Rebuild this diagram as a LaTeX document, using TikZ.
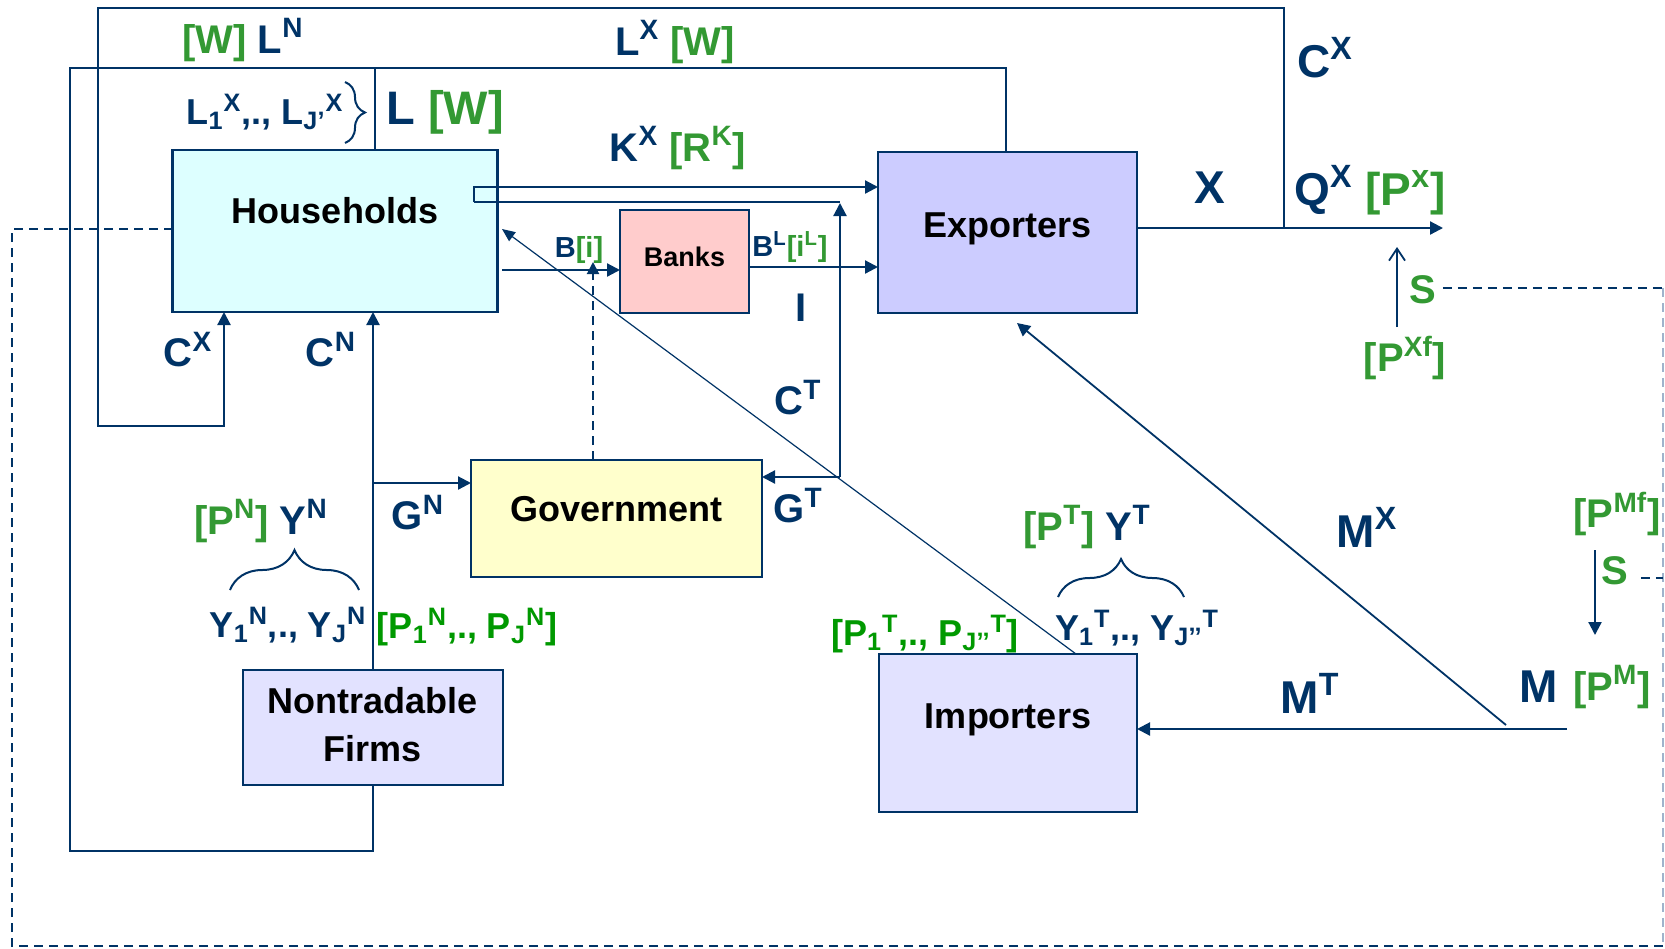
\documentclass[tikz,border=0pt]{standalone}
\usepackage{fontspec}
\setmainfont{Liberation Sans}
\usetikzlibrary{arrows.meta,decorations.pathreplacing}
\definecolor{navy}{HTML}{003366}
\definecolor{navylight}{HTML}{9FB3CC}
\definecolor{grn}{HTML}{339933}
\definecolor{grnb}{HTML}{009900}
\definecolor{hhfill}{HTML}{DDFFFF}
\definecolor{exfill}{HTML}{CCCCFF}
\definecolor{bkfill}{HTML}{FFCCCC}
\definecolor{gvfill}{HTML}{FFFFCC}
\definecolor{ntfill}{HTML}{E2E2FF}
\newcommand\sps[1]{\textsuperscript{#1}}
\newcommand\sbs[1]{\textsubscript{#1}}
\newcommand\gr[1]{\textcolor{grn}{#1}}
\newcommand\grb[1]{\textcolor{grnb}{#1}}
\begin{document}
\begin{tikzpicture}[x=0.5pt,y=-0.5pt,
  box/.style={draw=navy, line width=1.2pt, font=\fontsize{18}{24}\selectfont\bfseries, text=black, inner sep=0pt, outer sep=0pt},
  lab/.style={font=\fontsize{20}{23}\selectfont\bfseries, text=navy, inner sep=0pt},
  labx/.style={font=\fontsize{23}{26}\selectfont\bfseries, text=navy, inner sep=0pt},
  labs/.style={font=\fontsize{18}{21}\selectfont\bfseries, text=navy, inner sep=0pt},
  labg/.style={font=\fontsize{20}{23}\selectfont\bfseries, text=navy, inner sep=0pt},
  labm/.style={font=\fontsize{14.5}{17}\selectfont\bfseries, text=navy, inner sep=0pt},
  flow/.style={draw=navy, line width=1.1pt},
  arr/.style={flow, -{Triangle[length=6.5pt,width=6.5pt]}},
  dashline/.style={draw=navy, line width=1pt, dash pattern=on 4.5pt off 3pt},
  thinline/.style={draw=navy, line width=0.6pt},
  brc/.style={draw=navy, line width=1pt, decorate}
]
\useasboundingbox (0,0) rectangle (1665,948);
\fill[white] (0,0) rectangle (1665,948);

% boxes
\node[box, fill=hhfill, minimum width=162.5pt, minimum height=81pt, text height=12.9pt, text depth=20pt] (hh) at (335,231) {Households};
\node[box, fill=exfill, minimum width=129.5pt, minimum height=80.5pt, text height=12.9pt, text depth=8pt] (ex) at (1007.5,232.5) {Exporters};
\node[box, fill=bkfill, minimum width=64.5pt, minimum height=51.5pt, font=\fontsize{13.5}{16}\selectfont\bfseries, text height=9.7pt, text depth=5pt] (bk) at (684.5,261.5) {Banks};
\node[box, fill=gvfill, minimum width=145.5pt, minimum height=58.5pt, text height=12.9pt, text depth=10pt] (gov) at (616.5,518.5) {Government};
\node[box, fill=ntfill, minimum width=130pt, minimum height=57.5pt] (nt) at (373,727.5) {\raisebox{4pt}{\begin{tabular}{@{}c@{}}Nontradable\\Firms\end{tabular}}};
\node[box, fill=ntfill, minimum width=129pt, minimum height=79pt, text height=12.9pt, text depth=17pt] (im) at (1008,733) {Importers};

% labels
\node[lab] (lWLN) at (243,40) {\gr{[W]} L\sps{N}};
\node[lab] (lLXW) at (675,42) {L\sps{X} \gr{[W]}};
\node[labs] (lL1) at (265,112) {L\sbs{1}\sps{X},., L\sbs{J’}\sps{X}};
\node[lab, font=\fontsize{23.5}{27}\selectfont\bfseries] (lLW) at (445,112) {L \gr{[W]}};
\node[lab] (lKX) at (678,148) {K\sps{X} \gr{[R\sps{K}]}};
\node[labm] (lBi) at (579,250) {B\gr{[i]}};
\node[labm] (lBL) at (790,247) {B\sps{L}\gr{[i\sps{L}]}};
\node[lab] (lI) at (801,308) {I};
\node[labx] (lX) at (1210,188) {X};
\node[labx] (lCX2) at (1325,58) {C\sps{X}};
\node[labx] (lQX) at (1370,190) {Q\sps{X} \gr{[P\sps{x}]}};
\node[labg] (lS1) at (1423,290) {\gr{S}};
\node[labg] (lPXf) at (1405,358) {\gr{[P\sps{Xf}]}};
\node[lab] (lCX) at (188,350) {C\sps{X}};
\node[lab] (lCN) at (331,350) {C\sps{N}};
\node[lab] (lCT) at (798,398) {C\sps{T}};
\node[lab] (lGN) at (418,513) {G\sps{N}};
\node[lab] (lGT) at (798,506) {G\sps{T}};
\node[lab] (lPNYN) at (261,521) {\gr{[P\sps{N}]} Y\sps{N}};
\node[labs] (lY1N) at (288,625) {Y\sbs{1}\sps{N},., Y\sbs{J}\sps{N}};
\node[labs] (lP1N) at (467,627) {\grb{[P\sbs{1}\sps{N},., P\sbs{J}\sps{N}]}};
\node[lab] (lPTYT) at (1087,527) {\gr{[P\sps{T}]} Y\sps{T}};
\node[labs] (lY1T) at (1137,628) {Y\sbs{1}\sps{T},., Y\sbs{J’’}\sps{T}};
\node[labs] (lP1T) at (925,634) {\grb{[P\sbs{1}\sps{T},., P\sbs{J’’}\sps{T}]}};
\node[labx] (lMX) at (1367,527) {M\sps{X}};
\node[labx] (lMT) at (1310,693) {M\sps{T}};
\node[labx] (lM) at (1539,687) {M};
\node[labg] (lPM) at (1612,687) {\gr{[P\sps{M}]}};
\node[labg] (lPMf) at (1617,514) {\gr{[P\sps{Mf}]}};
\node[labg] (lS2) at (1615,571) {\gr{S}};

% junction coordinates
\coordinate (xj) at (1284,228);
\coordinate (ctj) at (840,477);
\coordinate (kxj) at (474,202);
\coordinate (mend) at (1567,729);
\coordinate (mxs) at (1506,725);
\coordinate (dr1) at (1663,288);
\coordinate (dr2) at (1663,946);

% labour loop
\draw[flow] (nt.south) -- (nt.south |- 0,851) -- (70,851) -- (70,68) -- (1006,68) -- (1006,0 |- ex.north);
\draw[flow] (375,68) -- (375,0 |- hh.north);
% C^X loop
\draw[arr] (xj) -- (1284,8) -- (98,8) -- (98,426) -- (224,426) -- (224,0 |- hh.south);
% C^N and G^N
\draw[arr] (nt.north) -- (nt.north |- hh.south);
\draw[arr] (nt.north |- 0,483) -- (gov.west |- 0,483);
% K^X and C^T
\draw[arr] (kxj) -- (474,187) -- (ex.west |- 0,187);
\draw[flow] (kxj) -- (840,202);
\draw[arr] (ctj) -- (840,203);
\draw[arr] (ctj) -- (gov.east |- ctj);
% households - banks - exporters
\draw[arr] (502,270) -- (bk.west |- 0,270);
\draw[arr] (bk.east |- 0,267) -- (ex.west |- 0,267);
\draw[dashline, -{Triangle[length=6pt,width=6pt]}] (593,0 |- gov.north) -- (593,262);
% diagonals
\draw[thinline, -{Triangle[length=6.5pt,width=5.5pt]}] (1076,0 |- im.north) -- (502,229);
\draw[flow, line width=0.9pt, -{Triangle[length=6.5pt,width=6.5pt]}] (mxs) -- (1017,323);
% imports
\draw[arr] (mend) -- (im.east |- mend);
\draw[arr] (1595,550) -- (1595,635);
% exports
\draw[arr] (ex.east |- xj) -- (1443,228);
\draw[flow, line width=0.9pt, -{Straight Barb[length=6pt,width=8pt]}] (1397,327) -- (1397,247);
% exchange rate dashed
\draw[dashline] ([xshift=3pt]lS1.east |- dr1) -- (dr1);
\draw[dashline, draw=navylight] (dr1) -- (dr2);
\draw[dashline] (dr2) -- (12,946) -- (12,229) -- (hh.west |- 0,229);
\draw[dashline] ([xshift=6pt]lS2.east |- 0,578) -- (1663,578);

% braces
\draw[brc, decoration={brace,amplitude=10pt}] (345,82) -- (345,143);
\draw[brc, decoration={brace,amplitude=20pt}] (230,590) -- (359,590);
\draw[brc, decoration={brace,amplitude=19pt}] (1058,597) -- (1184,597);
\end{tikzpicture}
\end{document}
